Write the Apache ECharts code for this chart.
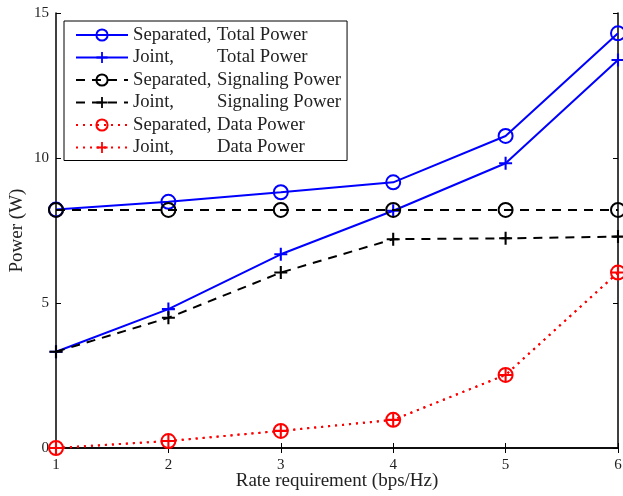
<!DOCTYPE html>
<html><head><meta charset="utf-8">
<script src="https://cdn.jsdelivr.net/npm/echarts@6/dist/echarts.min.js"></script>
<style>html,body{margin:0;padding:0;background:#fff}#c{width:623px;height:496px}</style>
</head><body><div id="c"></div>
<script>
const rates = [1, 2, 3, 4, 5, 6];
const sepTotal = [8.22, 8.49, 8.82, 9.16, 10.76, 14.3];
const jointTotal = [3.32, 4.79, 6.68, 8.18, 9.82, 13.38];
const sepSignal = [8.21, 8.21, 8.21, 8.21, 8.21, 8.21];
const jointSignal = [3.32, 4.49, 6.05, 7.2, 7.23, 7.29];
const sepData = [0, 0.24, 0.59, 0.97, 2.52, 6.05];
const jointData = [0, 0.24, 0.59, 0.97, 2.52, 6.05];
const yTicks = [0, 5, 10, 15];

const names = [
  ['Separated,', 'Total Power'],
  ['Joint,', 'Total Power'],
  ['Separated,', 'Signaling Power'],
  ['Joint,', 'Signaling Power'],
  ['Separated,', 'Data Power'],
  ['Joint,', 'Data Power']
];
const PLUS = 'path://M4.2,0 H5.8 V4.2 H10 V5.8 H5.8 V10 H4.2 V5.8 H0 V4.2 H4.2 Z';
const font = 'Liberation Serif';

function mk(i, data, color, lineType, marker, width) {
  const isCircle = marker === 'circle';
  return {
    name: names[i].join('|'),
    type: 'line',
    data: rates.map((r, k) => [r, data[k]]),
    symbol: marker,
    symbolSize: isCircle ? 14 : 13,
    showSymbol: true,
    lineStyle: { color: color, width: width, type: lineType },
    itemStyle: isCircle
      ? { color: 'rgba(0,0,0,0)', borderColor: color, borderWidth: 2 }
      : { color: color, borderWidth: 0 },
    emphasis: { disabled: true },
    animation: false,
    z: 2 + i
  };
}

const chart = echarts.init(document.getElementById('c'), null, { renderer: 'canvas' });
const axisLine = { show: true, lineStyle: { color: '#000', width: 1.5 } };
chart.setOption({
  backgroundColor: '#fff',
  animation: false,
  grid: { left: 56, right: 5, top: 13, bottom: 48, containLabel: false, outerBoundsMode: 'none' },
  legend: {
    left: 64, top: 21, orient: 'vertical',
    backgroundColor: '#fff',
    borderColor: '#000', borderWidth: 1,
    padding: [4, 6, 3, 11],
    itemWidth: 52, itemHeight: 14, itemGap: 2.5,
    selectedMode: false,
    formatter: function (n) { const p = n.split('|'); return '{a|' + p[0] + '}{b|' + p[1] + '}'; },
    textStyle: {
      fontFamily: font, fontSize: 18.7, color: '#222', lineHeight: 20,
      rich: {
        a: { fontFamily: font, fontSize: 18.7, color: '#222', width: 84, lineHeight: 20 },
        b: { fontFamily: font, fontSize: 18.7, color: '#222', lineHeight: 20 }
      }
    }
  },
  xAxis: [{
    type: 'value', min: 1, max: 6, interval: 1,
    name: 'Rate requirement (bps/Hz)', nameLocation: 'middle', nameGap: 24, nameMoveOverlap: false,
    nameTextStyle: { fontFamily: font, fontSize: 19, color: '#222' },
    axisLine: axisLine,
    axisTick: { show: true, inside: true, length: 5, lineStyle: { color: '#000' } },
    axisLabel: { fontFamily: font, fontSize: 15, color: '#222', margin: 10 },
    splitLine: { show: false }
  }, {
    type: 'value', min: 1, max: 6, interval: 1, position: 'top',
    axisLine: axisLine,
    axisTick: { show: true, inside: true, length: 5, lineStyle: { color: '#000' } },
    axisLabel: { show: false }, splitLine: { show: false }
  }],
  yAxis: [{
    type: 'value', min: 0, max: 15, interval: 5,
    name: 'Power (W)', nameLocation: 'middle', nameGap: 29, nameMoveOverlap: false,
    nameTextStyle: { fontFamily: font, fontSize: 19, color: '#222' },
    axisLine: axisLine,
    axisTick: { show: true, inside: true, length: 5, lineStyle: { color: '#000' } },
    axisLabel: { fontFamily: font, fontSize: 15, color: '#222', margin: 7,
      formatter: v => yTicks.includes(v) ? String(v) : '' },
    splitLine: { show: false }
  }, {
    type: 'value', min: 0, max: 15, interval: 5, position: 'right',
    axisLine: axisLine,
    axisTick: { show: true, inside: true, length: 5, lineStyle: { color: '#000' } },
    axisLabel: { show: false }, splitLine: { show: false }
  }],
  series: [
    mk(0, sepTotal, '#0000ff', 'solid', 'circle', 2),
    mk(1, jointTotal, '#0000ff', 'solid', PLUS, 2),
    mk(2, sepSignal, '#000000', [9, 7], 'circle', 2),
    mk(3, jointSignal, '#000000', [9, 7], PLUS, 2),
    mk(4, sepData, '#ff0000', [2, 5], 'circle', 2),
    mk(5, jointData, '#ff0000', [2, 5], PLUS, 2)
  ]
});
</script></body></html>
